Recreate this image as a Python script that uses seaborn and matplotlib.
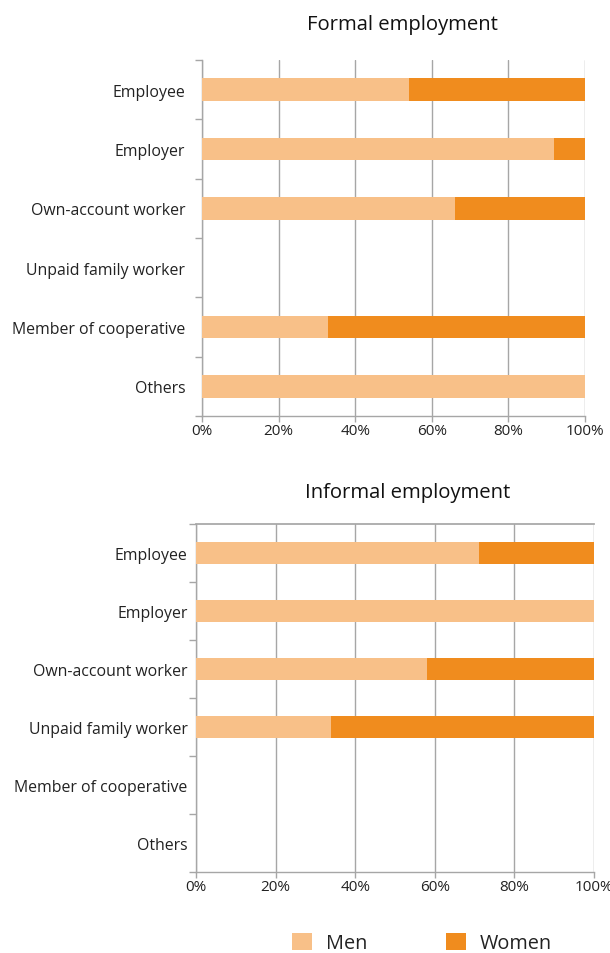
import matplotlib
matplotlib.use("Agg")
import matplotlib.pyplot as plt
import seaborn as sns
import pandas as pd
import numpy as np
from matplotlib.ticker import FixedLocator, PercentFormatter
from matplotlib.patches import Patch

categories = ["Employee", "Employer", "Own-account worker", "Unpaid family worker",
              "Member of cooperative", "Others"]
formal_men = [54, 92, 66, 0, 33, 100]
formal_women = [46, 8, 34, 0, 67, 0]
informal_men = [71, 100, 58, 34, 0, 0]
informal_women = [29, 0, 42, 66, 0, 0]
x_ticks = [0, 20, 40, 60, 80, 100]

MEN = "#F8C088"
WOMEN = "#F08C1E"
GRID = "#A6A6A6"
TEXT = "#222222"

sns.set_theme(style="white")
plt.rcParams["font.family"] = ["Open Sans", "DejaVu Sans"]

W, H = 610, 954
fig = plt.figure(figsize=(W / 100, H / 100), dpi=100)


def px_axes(left, top, right, bottom):
    return fig.add_axes([left / W, 1 - bottom / H, (right - left) / W, (bottom - top) / H])


def panel(ax, men, women, top_spine, label_pad):
    df = pd.DataFrame({"cat": categories,
                       "men": men,
                       "total": np.add(men, women)})
    sns.barplot(data=df, y="cat", x="total", color=WOMEN, width=0.38,
                saturation=1, ax=ax, orient="h", zorder=3, linewidth=0)
    sns.barplot(data=df, y="cat", x="men", color=MEN, width=0.38,
                saturation=1, ax=ax, orient="h", zorder=4, linewidth=0)
    ax.set_xlim(0, 100)
    ax.set_ylim(len(categories) - 0.5, -0.5)
    ax.set_xlabel("")
    ax.set_ylabel("")
    ax.xaxis.set_major_locator(FixedLocator(x_ticks))
    ax.xaxis.set_major_formatter(PercentFormatter(decimals=0))
    ax.grid(axis="x", color=GRID, linewidth=1.0, zorder=0)
    ax.set_axisbelow(True)
    for side in ["left", "bottom"]:
        ax.spines[side].set_color(GRID)
        ax.spines[side].set_linewidth(1.0)
    ax.spines["right"].set_visible(False)
    ax.spines["top"].set_visible(top_spine)
    ax.spines["top"].set_color(GRID)
    ax.yaxis.set_minor_locator(FixedLocator(np.arange(-0.5, len(categories), 1.0)))
    ax.tick_params(axis="y", which="major", length=0, pad=label_pad, labelsize=11.4,
                   labelcolor=TEXT)
    ax.tick_params(axis="y", which="minor", left=True, length=5, width=1, color=GRID,
                   direction="out")
    ax.tick_params(axis="x", which="major", bottom=True, length=4, width=1, color=GRID,
                   direction="out", labelsize=11, labelcolor=TEXT, pad=1)


ax1 = px_axes(202, 61, 585, 417)
panel(ax1, formal_men, formal_women, False, 12)
fig.text(402 / W, 1 - 25 / H, "Formal employment", ha="center", va="center",
         fontsize=14.6, color="#111111")

ax2 = px_axes(196, 525, 594, 873)
panel(ax2, informal_men, informal_women, True, 6)
fig.text(408 / W, 1 - 493 / H, "Informal employment", ha="center", va="center",
         fontsize=14.6, color="#111111")

handles = [Patch(facecolor=MEN, edgecolor="none", label="Men"),
           Patch(facecolor=WOMEN, edgecolor="none", label="Women")]
fig.legend(handles=handles, loc="center", bbox_to_anchor=(422 / W, 1 - 944 / H),
           ncol=2, frameon=False, fontsize=14.3, handlelength=1.0, handleheight=1.0,
           columnspacing=4.0, handletextpad=0.7, labelcolor=TEXT)

fig.savefig("out.png", dpi=100)
